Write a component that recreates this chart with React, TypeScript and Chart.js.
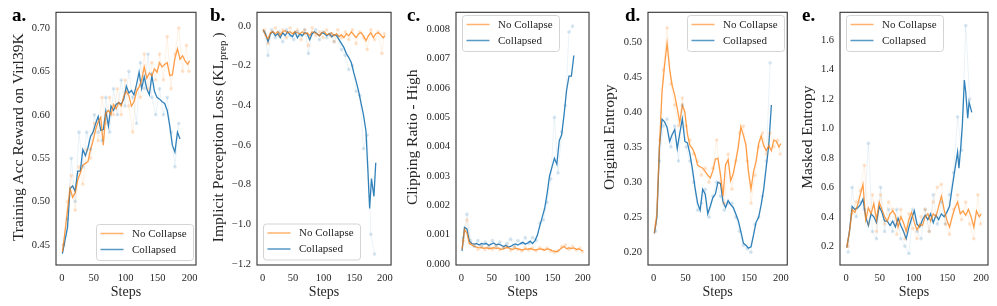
import React, { useEffect, useRef } from "react";
import { Chart, registerables } from "chart.js";

Chart.register(...registerables);

const SERIF = "'Liberation Serif', 'Times New Roman', Times, serif";
const TEXT = "#262626";
const ORANGE = "255,127,14";
const BLUE = "31,119,180";
const H = 306;
const BOX_TOP = 9.5;
const BOX_BOTTOM = 265;

const LEGEND_LABELS = ["No Collapse", "Collapsed"];
const X_TICKS = [0, 50, 100, 150, 200];

const STEPS_NC = [1, 5, 9, 13, 17, 21, 25, 29, 33, 37, 41, 45, 49, 53, 57, 61, 65, 69, 73, 77, 81, 85, 89, 93, 97, 101, 105, 109, 113, 117, 121, 125, 129, 133, 137, 141, 145, 149, 153, 157, 161, 165, 169, 173, 177, 181, 185, 189, 193, 197, 200];
const STEPS_C = [1, 5, 9, 13, 17, 21, 25, 29, 33, 37, 41, 45, 49, 53, 57, 61, 65, 69, 73, 77, 81, 85, 89, 93, 97, 101, 105, 109, 113, 117, 121, 125, 129, 133, 137, 141, 145, 149, 153, 157, 161, 165, 169, 173, 177, 181, 185];
const STEPS_C_B = [1, 5, 9, 13, 17, 21, 25, 29, 33, 37, 41, 45, 49, 53, 57, 61, 65, 69, 73, 77, 81, 85, 89, 93, 97, 101, 105, 109, 113, 117, 121, 125, 129, 133, 137, 141, 145, 149, 153, 157, 161, 165, 169, 172, 175, 178, 182, 185];
const STEPS_C_E = [1, 5, 9, 13, 17, 21, 25, 29, 33, 37, 41, 45, 49, 53, 57, 61, 65, 69, 73, 77, 81, 85, 89, 93, 97, 101, 105, 109, 113, 117, 121, 125, 129, 133, 137, 141, 145, 149, 153, 157, 161, 165, 167, 170, 172, 175, 177, 180, 182, 186];
const RAW_STEPS_NC = [3, 9, 15, 21, 27, 33, 39, 45, 51, 57, 63, 69, 75, 81, 87, 93, 99, 105, 111, 117, 123, 129, 135, 141, 147, 153, 159, 165, 171, 177, 183, 189, 195, 199];
const RAW_STEPS_C = [3, 9, 15, 21, 27, 33, 39, 45, 51, 57, 63, 69, 75, 81, 87, 93, 99, 105, 111, 117, 123, 129, 135, 141, 147, 153, 159, 165, 171, 177, 183];

// a. Training Acc Reward
const A_NC = [0.442, 0.465, 0.49, 0.515, 0.505, 0.51, 0.525, 0.533, 0.542, 0.544, 0.546, 0.56, 0.57, 0.583, 0.592, 0.597, 0.565, 0.602, 0.605, 0.6, 0.612, 0.607, 0.614, 0.61, 0.621, 0.627, 0.622, 0.61, 0.615, 0.627, 0.632, 0.64, 0.655, 0.642, 0.648, 0.645, 0.653, 0.649, 0.66, 0.655, 0.658, 0.66, 0.645, 0.646, 0.665, 0.676, 0.664, 0.668, 0.662, 0.658, 0.662];
const A_C = [0.44, 0.455, 0.47, 0.515, 0.518, 0.512, 0.535, 0.535, 0.56, 0.553, 0.562, 0.575, 0.58, 0.59, 0.598, 0.582, 0.583, 0.604, 0.587, 0.61, 0.605, 0.612, 0.614, 0.612, 0.618, 0.633, 0.625, 0.628, 0.623, 0.635, 0.649, 0.63, 0.644, 0.63, 0.623, 0.645, 0.627, 0.62, 0.618, 0.615, 0.613, 0.605, 0.587, 0.565, 0.557, 0.58, 0.572];
const A_NC_RAW = [0.45, 0.5, 0.53, 0.49, 0.54, 0.52, 0.56, 0.55, 0.59, 0.57, 0.62, 0.59, 0.62, 0.6, 0.63, 0.6, 0.64, 0.61, 0.58, 0.63, 0.62, 0.67, 0.63, 0.66, 0.64, 0.67, 0.64, 0.69, 0.63, 0.67, 0.7, 0.65, 0.68, 0.65];
const A_C_RAW = [0.45, 0.48, 0.55, 0.5, 0.58, 0.54, 0.58, 0.56, 0.6, 0.58, 0.57, 0.62, 0.58, 0.63, 0.6, 0.64, 0.61, 0.65, 0.62, 0.59, 0.66, 0.63, 0.67, 0.62, 0.6, 0.63, 0.6, 0.62, 0.58, 0.54, 0.59];
const A_TICKS = [0.45, 0.5, 0.55, 0.6, 0.65, 0.7];

// b. Implicit Perception Loss
const B_NC = [-0.02, -0.05, -0.065, -0.035, -0.03, -0.04, -0.03, -0.045, -0.03, -0.025, -0.035, -0.03, -0.04, -0.03, -0.035, -0.04, -0.03, -0.04, -0.035, -0.05, -0.03, -0.035, -0.04, -0.05, -0.035, -0.03, -0.045, -0.04, -0.035, -0.05, -0.04, -0.055, -0.045, -0.06, -0.04, -0.05, -0.03, -0.045, -0.06, -0.04, -0.035, -0.05, -0.075, -0.05, -0.035, -0.06, -0.04, -0.035, -0.045, -0.06, -0.05];
const B_C = [-0.02, -0.04, -0.08, -0.04, -0.03, -0.05, -0.04, -0.06, -0.035, -0.05, -0.03, -0.045, -0.055, -0.03, -0.06, -0.04, -0.05, -0.035, -0.04, -0.07, -0.04, -0.03, -0.04, -0.05, -0.035, -0.04, -0.05, -0.04, -0.055, -0.045, -0.05, -0.07, -0.09, -0.11, -0.14, -0.16, -0.185, -0.235, -0.28, -0.33, -0.39, -0.45, -0.53, -0.72, -0.92, -0.77, -0.86, -0.69];
const B_NC_RAW = [-0.02, -0.09, -0.03, -0.01, -0.05, -0.02, -0.06, -0.01, -0.04, -0.02, -0.07, -0.02, -0.1, -0.01, -0.05, -0.03, -0.06, -0.02, -0.05, -0.08, -0.02, -0.06, -0.03, -0.07, -0.02, -0.09, -0.03, -0.06, -0.12, -0.02, -0.07, -0.03, -0.14, -0.04];
const B_C_RAW = [-0.03, -0.15, -0.02, -0.06, -0.03, -0.08, -0.02, -0.05, -0.07, -0.03, -0.05, -0.02, -0.14, -0.04, -0.02, -0.07, -0.03, -0.06, -0.04, -0.08, -0.05, -0.12, -0.15, -0.22, -0.2, -0.33, -0.35, -0.62, -0.55, -1.05, -1.15];
const B_TICKS = [-1.2, -1.0, -0.8, -0.6, -0.4, -0.2, 0.0];

// c. Clipping Ratio - High
const C_NC = [0.0005, 0.00118, 0.00105, 0.0007, 0.00065, 0.0006, 0.00058, 0.00056, 0.00055, 0.00054, 0.00056, 0.00052, 0.00054, 0.00056, 0.00053, 0.00055, 0.0005, 0.00052, 0.00055, 0.00056, 0.00052, 0.0005, 0.00054, 0.00052, 0.0005, 0.00048, 0.00052, 0.0005, 0.00053, 0.0005, 0.00048, 0.0005, 0.00052, 0.0005, 0.00047, 0.00052, 0.0005, 0.00046, 0.00044, 0.00042, 0.00048, 0.00055, 0.0006, 0.00052, 0.00056, 0.00053, 0.00055, 0.0005, 0.00052, 0.00048, 0.00045];
const C_C = [0.00045, 0.00125, 0.0012, 0.00078, 0.0007, 0.00068, 0.0007, 0.00065, 0.0007, 0.00068, 0.0007, 0.00064, 0.00068, 0.00072, 0.00066, 0.00068, 0.00065, 0.0006, 0.00064, 0.00058, 0.0006, 0.00066, 0.00069, 0.00065, 0.0007, 0.00074, 0.00068, 0.00072, 0.00078, 0.0007, 0.0008, 0.00098, 0.0013, 0.0016, 0.0019, 0.0024, 0.003, 0.0033, 0.0036, 0.0034, 0.0042, 0.0044, 0.0051, 0.0059, 0.0064, 0.0064, 0.0071];
const C_NC_RAW = [0.0008, 0.0015, 0.0007, 0.00065, 0.0005, 0.0006, 0.0005, 0.00058, 0.0005, 0.00062, 0.00048, 0.00056, 0.0006, 0.00047, 0.00058, 0.0005, 0.00045, 0.00056, 0.00048, 0.00055, 0.00045, 0.00056, 0.0005, 0.00055, 0.00045, 0.0004, 0.00045, 0.0006, 0.00065, 0.0005, 0.0006, 0.00048, 0.00055, 0.00042];
const C_C_RAW = [0.0009, 0.0017, 0.0008, 0.0006, 0.0008, 0.0006, 0.00075, 0.0006, 0.0008, 0.0006, 0.00075, 0.00055, 0.0007, 0.00085, 0.0006, 0.0008, 0.0007, 0.0009, 0.0007, 0.0009, 0.0008, 0.0014, 0.0015, 0.0021, 0.0029, 0.005, 0.0031, 0.0045, 0.0054, 0.0079, 0.0081];
const C_TICKS = [0, 0.001, 0.002, 0.003, 0.004, 0.005, 0.006, 0.007, 0.008];

// d. Original Entropy
const D_NC = [0.227, 0.255, 0.35, 0.428, 0.466, 0.498, 0.461, 0.438, 0.424, 0.405, 0.385, 0.41, 0.4, 0.368, 0.352, 0.348, 0.339, 0.324, 0.322, 0.32, 0.315, 0.31, 0.306, 0.316, 0.333, 0.334, 0.311, 0.28, 0.325, 0.332, 0.302, 0.312, 0.33, 0.35, 0.379, 0.367, 0.353, 0.315, 0.29, 0.315, 0.33, 0.355, 0.366, 0.352, 0.345, 0.352, 0.345, 0.36, 0.358, 0.35, 0.355];
const D_C = [0.227, 0.25, 0.35, 0.39, 0.386, 0.378, 0.358, 0.368, 0.375, 0.348, 0.37, 0.39, 0.358, 0.356, 0.34, 0.318, 0.292, 0.27, 0.26, 0.29, 0.283, 0.255, 0.266, 0.278, 0.283, 0.3, 0.298, 0.272, 0.264, 0.274, 0.268, 0.264, 0.255, 0.245, 0.23, 0.213, 0.21, 0.206, 0.208, 0.225, 0.243, 0.25, 0.268, 0.29, 0.322, 0.353, 0.41];
const D_NC_RAW = [0.24, 0.36, 0.46, 0.52, 0.44, 0.41, 0.38, 0.42, 0.38, 0.36, 0.34, 0.33, 0.31, 0.32, 0.3, 0.32, 0.36, 0.3, 0.27, 0.34, 0.29, 0.33, 0.37, 0.38, 0.33, 0.27, 0.31, 0.35, 0.37, 0.34, 0.37, 0.35, 0.36, 0.34];
const D_C_RAW = [0.23, 0.33, 0.38, 0.39, 0.35, 0.38, 0.33, 0.41, 0.35, 0.33, 0.3, 0.26, 0.27, 0.29, 0.25, 0.28, 0.3, 0.28, 0.26, 0.27, 0.27, 0.25, 0.23, 0.21, 0.205, 0.2, 0.24, 0.25, 0.28, 0.33, 0.47];
const D_TICKS = [0.2, 0.25, 0.3, 0.35, 0.4, 0.45, 0.5];

// e. Masked Entropy
const E_NC = [0.19, 0.3, 0.45, 0.43, 0.48, 0.55, 0.62, 0.38, 0.46, 0.42, 0.49, 0.38, 0.5, 0.45, 0.4, 0.37, 0.42, 0.44, 0.41, 0.33, 0.4, 0.36, 0.3, 0.38, 0.43, 0.36, 0.31, 0.35, 0.34, 0.4, 0.42, 0.37, 0.42, 0.4, 0.47, 0.54, 0.45, 0.38, 0.33, 0.4, 0.46, 0.5, 0.42, 0.44, 0.41, 0.45, 0.4, 0.33, 0.44, 0.4, 0.42];
const E_C = [0.19, 0.3, 0.47, 0.45, 0.46, 0.48, 0.52, 0.4, 0.34, 0.42, 0.4, 0.36, 0.47, 0.43, 0.37, 0.37, 0.34, 0.37, 0.33, 0.39, 0.34, 0.3, 0.25, 0.33, 0.39, 0.44, 0.35, 0.33, 0.38, 0.41, 0.38, 0.42, 0.36, 0.41, 0.38, 0.42, 0.4, 0.43, 0.47, 0.6, 0.72, 0.84, 0.73, 0.89, 1.02, 1.33, 1.25, 1.07, 1.18, 1.11];
const E_NC_RAW = [0.2, 0.42, 0.5, 0.58, 0.75, 0.35, 0.55, 0.3, 0.55, 0.35, 0.5, 0.45, 0.28, 0.45, 0.25, 0.42, 0.32, 0.25, 0.4, 0.45, 0.3, 0.5, 0.6, 0.62, 0.35, 0.28, 0.45, 0.55, 0.38, 0.5, 0.35, 0.25, 0.55, 0.35];
const E_C_RAW = [0.16, 0.6, 0.4, 0.5, 0.45, 0.9, 0.3, 0.25, 0.6, 0.3, 0.45, 0.3, 0.45, 0.25, 0.2, 0.15, 0.45, 0.3, 0.25, 0.45, 0.3, 0.55, 0.35, 0.5, 0.35, 0.55, 0.7, 1.08, 0.85, 1.7, 1.2];
const E_TICKS = [0.2, 0.4, 0.6, 0.8, 1.0, 1.2, 1.4, 1.6];

type Panel = {
  letter: string;
  yTitle: string;
  ySub?: string;
  left: number;
  width: number;
  boxLeft: number;
  boxRight: number;
  letterX: number;
  titleX: number;
  legendX: number;
  legendY: number;
  yMin: number;
  yMax: number;
  yTicks: number[];
  dec: number;
  nc: number[];
  c: number[];
  cSteps: number[];
  ncRaw: number[];
  cRaw: number[];
};

const PANELS: Panel[] = [
  { letter: "a.", yTitle: "Training Acc Reward on Virl39K", left: 0, width: 205, boxLeft: 56, boxRight: 196, letterX: 12, titleX: 19, legendX: 96, legendY: 224, yMin: 0.427, yMax: 0.718, yTicks: A_TICKS, dec: 2, nc: A_NC, c: A_C, cSteps: STEPS_C, ncRaw: A_NC_RAW, cRaw: A_C_RAW },
  { letter: "b.", yTitle: "Implicit Perception Loss (KL", ySub: "prep", left: 205, width: 195, boxLeft: 257, boxRight: 396, letterX: 210, titleX: 219, legendX: 263, legendY: 223.5, yMin: -1.205, yMax: 0.068, yTicks: B_TICKS, dec: 1, nc: B_NC, c: B_C, cSteps: STEPS_C_B, ncRaw: B_NC_RAW, cRaw: B_C_RAW },
  { letter: "c.", yTitle: "Clipping Ratio - High", left: 400, width: 198, boxLeft: 456, boxRight: 594, letterX: 407, titleX: 413, legendX: 462, legendY: 15, yMin: -0.00003, yMax: 0.00857, yTicks: C_TICKS, dec: 3, nc: C_NC, c: C_C, cSteps: STEPS_C, ncRaw: C_NC_RAW, cRaw: C_C_RAW },
  { letter: "d.", yTitle: "Original Entropy", left: 598, width: 198, boxLeft: 648, boxRight: 791, letterX: 625, titleX: 610, legendX: 687, legendY: 15, yMin: 0.182, yMax: 0.542, yTicks: D_TICKS, dec: 2, nc: D_NC, c: D_C, cSteps: STEPS_C, ncRaw: D_NC_RAW, cRaw: D_C_RAW },
  { letter: "e.", yTitle: "Masked Entropy", left: 796, width: 201, boxLeft: 840, boxRight: 988, letterX: 802, titleX: 808, legendX: 846, legendY: 15, yMin: 0.072, yMax: 1.79, yTicks: E_TICKS, dec: 1, nc: E_NC, c: E_C, cSteps: STEPS_C_E, ncRaw: E_NC_RAW, cRaw: E_C_RAW },
];

const toXY = (xs: number[], ys: number[]) => ys.map((y, i) => ({ x: xs[i], y }));

function PanelChart({ p }: { p: Panel }) {
  const ref = useRef<HTMLCanvasElement | null>(null);
  useEffect(() => {
    if (!ref.current) return;
    const decor = {
      id: "decor",
      afterDraw(chart: any) {
        const ctx = chart.ctx as CanvasRenderingContext2D;
        const a = chart.chartArea;
        ctx.save();
        // frame
        ctx.strokeStyle = "#333333";
        ctx.lineWidth = 1.1;
        ctx.strokeRect(a.left, a.top, a.right - a.left, a.bottom - a.top);
        // panel letter
        ctx.fillStyle = "#000";
        ctx.font = `bold 19px ${SERIF}`;
        ctx.textAlign = "left";
        ctx.textBaseline = "alphabetic";
        ctx.fillText(p.letter, p.letterX - p.left, 20.5);
        // y title
        ctx.save();
        ctx.translate(p.titleX - p.left, (BOX_TOP + BOX_BOTTOM) / 2);
        ctx.rotate(-Math.PI / 2);
        ctx.fillStyle = TEXT;
        ctx.textBaseline = "middle";
        ctx.textAlign = "left";
        const mainFont = `15.5px ${SERIF}`;
        const subFont = `11px ${SERIF}`;
        ctx.font = mainFont;
        const w1 = ctx.measureText(p.yTitle).width;
        let total = w1;
        let w2 = 0;
        let w3 = 0;
        if (p.ySub) {
          ctx.font = subFont;
          w2 = ctx.measureText(p.ySub).width;
          ctx.font = mainFont;
          w3 = ctx.measureText(")").width;
          total = w1 + w2 + 3 + w3;
        }
        const x0 = -total / 2;
        ctx.font = mainFont;
        ctx.fillText(p.yTitle, x0, 0);
        if (p.ySub) {
          ctx.font = subFont;
          ctx.fillText(p.ySub, x0 + w1, 4.5);
          ctx.font = mainFont;
          ctx.fillText(")", x0 + w1 + w2 + 3, 0);
        }
        ctx.restore();
        // legend
        const lx = p.legendX - p.left;
        const ly = p.legendY;
        const lw = 97;
        const lh = 36;
        ctx.beginPath();
        (ctx as any).roundRect(lx + 0.5, ly + 0.5, lw, lh, 3);
        ctx.fillStyle = "rgba(255,255,255,0.85)";
        ctx.fill();
        ctx.strokeStyle = "#d4d4d4";
        ctx.lineWidth = 1;
        ctx.stroke();
        const rows = [
          { color: `rgba(${ORANGE},0.6)`, label: LEGEND_LABELS[0] },
          { color: `rgba(${BLUE},0.75)`, label: LEGEND_LABELS[1] },
        ];
        rows.forEach((r, i) => {
          const y = ly + 9.5 + i * 16;
          ctx.strokeStyle = r.color;
          ctx.lineWidth = 1.5;
          ctx.beginPath();
          ctx.moveTo(lx + 4.5, y);
          ctx.lineTo(lx + 27.5, y);
          ctx.stroke();
          ctx.fillStyle = TEXT;
          ctx.font = `11px ${SERIF}`;
          ctx.textAlign = "left";
          ctx.textBaseline = "middle";
          ctx.fillText(r.label, lx + 36, y + 0.5);
        });
        ctx.restore();
      },
    };
    const fmt = (v: number) => Number(v).toFixed(p.dec).replace("-", "\u2212");
    const chart = new Chart(ref.current, {
      type: "line",
      data: {
        datasets: [
          {
            label: "raw nc",
            data: toXY(RAW_STEPS_NC, p.ncRaw),
            borderColor: `rgba(${ORANGE},0.1)`,
            borderWidth: 1,
            pointRadius: 1.8,
            pointBackgroundColor: `rgba(${ORANGE},0.2)`,
            pointBorderWidth: 0,
          },
          {
            label: "raw c",
            data: toXY(RAW_STEPS_C, p.cRaw),
            borderColor: `rgba(${BLUE},0.09)`,
            borderWidth: 1,
            pointRadius: 1.8,
            pointBackgroundColor: `rgba(${BLUE},0.18)`,
            pointBorderWidth: 0,
          },
          {
            label: LEGEND_LABELS[0],
            data: toXY(STEPS_NC, p.nc),
            borderColor: `rgba(${ORANGE},0.75)`,
            borderWidth: 1.3,
            pointRadius: 0,
          },
          {
            label: LEGEND_LABELS[1],
            data: toXY(p.cSteps, p.c),
            borderColor: `rgba(${BLUE},0.92)`,
            borderWidth: 1.3,
            pointRadius: 0,
          },
        ],
      },
      options: {
        animation: false,
        responsive: false,
        maintainAspectRatio: false,
        events: [],
        layout: { padding: { top: BOX_TOP, right: p.left + p.width - p.boxRight, bottom: 0, left: 0 } },
        plugins: { legend: { display: false }, tooltip: { enabled: false } },
        scales: {
          x: {
            type: "linear",
            min: -9,
            max: 210,
            grid: { display: false, drawTicks: false },
            border: { display: false },
            ticks: { font: { family: SERIF, size: 10.5 }, color: TEXT, padding: 7, maxRotation: 0, autoSkip: false },
            afterBuildTicks: (s: any) => {
              s.ticks = X_TICKS.map((v) => ({ value: v }));
            },
            afterFit: (s: any) => {
              s.height = H - BOX_BOTTOM;
            },
            title: { display: true, text: "Steps", font: { family: SERIF, size: 14 }, color: TEXT, padding: { top: 0, bottom: 5.5 } },
          },
          y: {
            type: "linear",
            min: p.yMin,
            max: p.yMax,
            grid: { display: false, drawTicks: false },
            border: { display: false },
            ticks: { font: { family: SERIF, size: 10.5 }, color: TEXT, padding: 6, autoSkip: false, callback: (v: any) => fmt(v) },
            afterBuildTicks: (s: any) => {
              s.ticks = p.yTicks.map((v) => ({ value: v }));
            },
            afterFit: (s: any) => {
              s.width = p.boxLeft - p.left;
            },
          },
        },
      } as any,
      plugins: [decor],
    });
    return () => chart.destroy();
  }, [p]);
  return (
    <canvas
      ref={ref}
      width={p.width}
      height={H}
      style={{ position: "absolute", left: p.left, top: 0, width: p.width, height: H }}
    />
  );
}

export default function App() {
  return (
    <div style={{ position: "absolute", left: 0, top: 0, width: 997, height: H, background: "#fff", overflow: "hidden" }}>
      {PANELS.map((p) => (
        <PanelChart key={p.letter} p={p} />
      ))}
    </div>
  );
}
